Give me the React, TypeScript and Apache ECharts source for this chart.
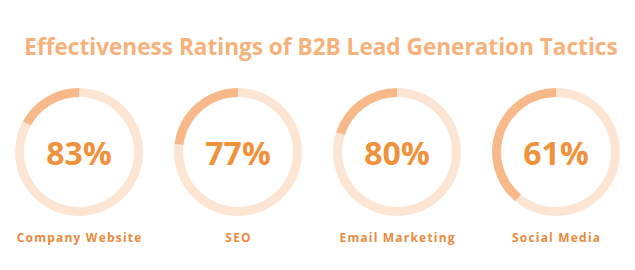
import React, { useEffect, useRef } from "react";
import * as echarts from "echarts";

const titleText = "Effectiveness Ratings of B2B Lead Generation Tactics";
const categories = ["Company Website", "SEO", "Email Marketing", "Social Media"];
const values = [83, 77, 80, 61];

const centersX = [79, 238, 397, 556];
const centerY = 152;

export default function App() {
  const ref = useRef<HTMLDivElement>(null);
  useEffect(() => {
    if (!ref.current) return;
    const chart = echarts.init(ref.current, undefined, { renderer: "svg" });
    const series: any[] = values.map((v, i) => ({
      type: "pie",
      center: [centersX[i], centerY],
      radius: [55, 64],
      startAngle: 90,
      clockwise: true,
      silent: true,
      label: { show: false },
      labelLine: { show: false },
      data: [
        { value: v, name: categories[i], itemStyle: { color: "#FCE6D3" } },
        { value: 100 - v, name: "rest", itemStyle: { color: "#F8B98A" } },
      ],
    }));
    const graphics: any[] = [
      {
        type: "text",
        x: 321,
        y: 46,
        style: {
          text: titleText,
          font: "bold 22.6px 'Open Sans'",
          fill: "#F6B27A",
          align: "center",
          verticalAlign: "middle",
        },
      },
    ];
    values.forEach((v, i) => {
      graphics.push({
        type: "text",
        x: centersX[i],
        y: centerY,
        style: {
          text: v + "%",
          font: "bold 32px 'Open Sans'",
          fill: "#F0913B",
          align: "center",
          verticalAlign: "middle",
        },
      });
      graphics.push({
        type: "text",
        x: centersX[i],
        y: 237,
        style: {
          text: categories[i].split("").join("\u200A"),
          font: "bold 12px 'Open Sans'",
          fill: "#E98A3C",
          align: "center",
          verticalAlign: "middle",
        },
      });
    });
    chart.setOption({
      animation: false,
      backgroundColor: "#ffffff",
      series,
      graphic: graphics,
    });
    return () => chart.dispose();
  }, []);
  return (
    <div
      ref={ref}
      style={{ position: "fixed", left: 0, top: 0, width: 635, height: 270 }}
    />
  );
}
